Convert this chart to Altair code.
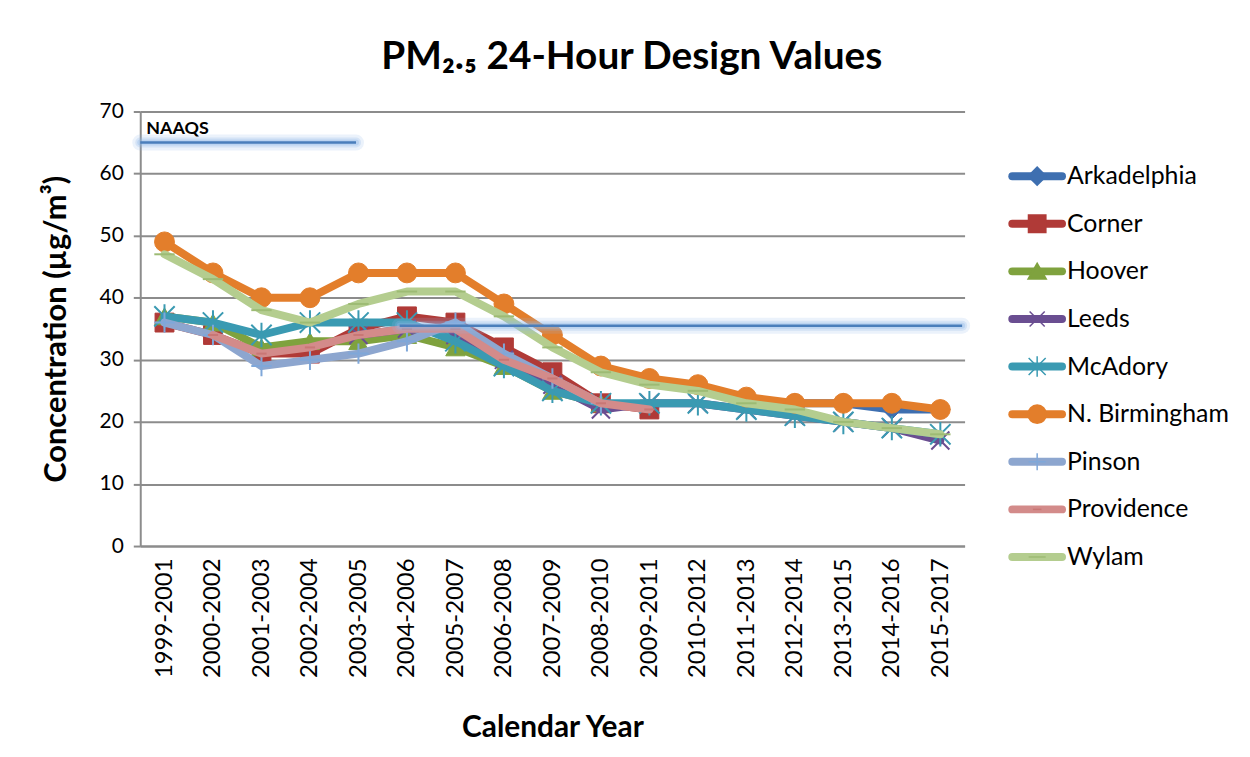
import altair as alt
import pandas as pd

periods = ["1999-2001", "2000-2002", "2001-2003", "2002-2004", "2003-2005", "2004-2006",
           "2005-2007", "2006-2008", "2007-2009", "2008-2010", "2009-2011", "2010-2012",
           "2011-2013", "2012-2014", "2013-2015", "2014-2016", "2015-2017"]

N = None
arkadelphia   = [N, N, N, N, N, N, N, N, N, N, N, N, N, 23, 23, 22, 22]
corner        = [36, 34, 31, 31, 35, 37, 36, 32, 28, 23, 22, N, N, N, N, N, N]
hoover        = [37, 36, 32, 33, 33, 34, 32, 29, 25, 23, N, N, N, N, N, N, N]
leeds         = [N, N, N, N, 34, 35, 34, 30, 26, 22, 23, 23, 22, 21, 20, 19, 17]
mcadory       = [37, 36, 34, 36, 36, 36, 33, 29, 25, 23, 23, 23, 22, 21, 20, 19, 18]
n_birmingham  = [49, 44, 40, 40, 44, 44, 44, 39, 34, 29, 27, 26, 24, 23, 23, 23, 22]
pinson        = [36, 34, 29, 30, 31, 33, 36, 31, 27, 23, N, N, N, N, N, N, N]
providence    = [N, 34, 31, 32, 34, 35, 35, 30, 27, 23, 22, N, N, N, N, N, N]
wylam         = [47, 43, 38, 36, 39, 41, 41, 37, 32, 28, 26, 25, 23, 22, 20, 19, 18]

series_names = ["Arkadelphia", "Corner", "Hoover", "Leeds", "McAdory", "N. Birmingham",
                "Pinson", "Providence", "Wylam"]
series_values = [arkadelphia, corner, hoover, leeds, mcadory, n_birmingham, pinson,
                 providence, wylam]

# NAAQS reference segments (value, start index, end index)
naaqs_levels = [65, 35.5]
naaqs_start = [-0.5, 4.85]
naaqs_end = [3.95, 16.45]
naaqs_label = ["NAAQS"]

colors = {
    "Arkadelphia": "#3E6FB0", "Corner": "#B03A37", "Hoover": "#7FA23E",
    "Leeds": "#6A4E91", "McAdory": "#3A9AB2", "N. Birmingham": "#E37E2B",
    "Pinson": "#8DA6CF", "Providence": "#D38B8A", "Wylam": "#B4CD8F",
}
marker_color = dict(colors)
marker_color["Pinson"] = "#7FA7D9"
marker_color["Providence"] = "#C97775"
marker_color["Wylam"] = "#9DBB74"

XSTAR = "M-1,-1L1,1M-1,1L1,-1"
ASTER = "M-1,-1L1,1M-1,1L1,-1M0,-1.2L0,1.2"
PLUS = "M0,-1L0,1M-1,0L1,0"
DASH_S = "M-0.5,0L0.5,0"
DASH_L = "M-1,0L1,0"
markers = {
    "Arkadelphia": ("diamond", True, 380),
    "Corner": ("square", True, 360),
    "Hoover": ("triangle-up", True, 380),
    "Leeds": (XSTAR, False, 330),
    "McAdory": (ASTER, False, 420),
    "N. Birmingham": ("circle", True, 400),
    "Pinson": (PLUS, False, 420),
    "Providence": (DASH_S, False, 420),
    "Wylam": (DASH_L, False, 420),
}

rows = []
for name, vals in zip(series_names, series_values):
    for i, v in enumerate(vals):
        if v is not None:
            rows.append({"series": name, "idx": i, "value": v})
df = pd.DataFrame(rows)

FONT = "Lato"
W, H = 829, 437
GRID = "#8C8C8C"

label_expr = "[" + ",".join("'" + p + "'" for p in periods) + "][datum.value]"

x_enc = alt.X("idx:Q",
              scale=alt.Scale(domain=[-0.5, len(periods) - 0.5], nice=False, zero=False),
              axis=alt.Axis(values=list(range(len(periods))), labelExpr=label_expr,
                            labelAngle=-90, labelAlign="right", labelBaseline="middle",
                            labelFontSize=24, labelFont=FONT, labelColor="black",
                            labelPadding=12, ticks=False, grid=False,
                            domainColor=GRID, domainWidth=2,
                            title="Calendar Year", titleFont=FONT, titleFontSize=30,
                            titleFontWeight="bold", titleColor="black", titlePadding=35))
y_enc = alt.Y("value:Q",
              scale=alt.Scale(domain=[0, 70], nice=False),
              axis=alt.Axis(values=list(range(0, 71, 10)), labelFontSize=21,
                            labelFont=FONT, labelColor="black", labelPadding=10,
                            tickSize=7, tickColor=GRID, tickWidth=2,
                            gridColor=GRID, gridWidth=2, domainColor=GRID, domainWidth=2,
                            title="Concentration (µg/m³)", titleFont=FONT, titleFontSize=31,
                            titleFontWeight="bold", titleColor="black", titlePadding=27))

base = alt.Chart(df)

layers = []
# axis/grid holder
layers.append(base.mark_line(opacity=0).encode(x=x_enc, y=y_enc, detail="series:N"))

for name in series_names:
    sub = base.transform_filter(alt.datum.series == name)
    layers.append(sub.mark_line(color=colors[name], strokeWidth=8, strokeCap="round",
                                strokeJoin="round").encode(x="idx:Q", y="value:Q"))
    shape, filled, size = markers[name]
    if filled:
        pm = sub.mark_point(shape=shape, filled=True, fill=marker_color[name],
                            stroke=marker_color[name], strokeWidth=1, size=size, opacity=1)
    else:
        pm = sub.mark_point(shape=shape, filled=False, stroke=marker_color[name],
                            strokeWidth=2, size=size, opacity=1)
    layers.append(pm.encode(x="idx:Q", y="value:Q"))

naaqs_df = pd.DataFrame({"level": naaqs_levels, "start": naaqs_start, "end": naaqs_end})
nbase = alt.Chart(naaqs_df)
for w, op in [(16, 0.18), (10, 0.25), (6, 0.35)]:
    layers.append(nbase.mark_rule(color="#8FB8E8", strokeWidth=w, opacity=op,
                                  strokeCap="round").encode(
        x="start:Q", x2="end:Q", y="level:Q"))
layers.append(nbase.mark_rule(color="#4A7EBB", strokeWidth=2.5).encode(
    x="start:Q", x2="end:Q", y="level:Q"))

label_df = pd.DataFrame({"text": naaqs_label, "x": [naaqs_start[0]], "y": [naaqs_levels[0]]})
layers.append(alt.Chart(label_df).mark_text(font=FONT, fontSize=18, fontWeight="bold",
                                            align="left", baseline="bottom", dx=6, dy=-5,
                                            color="black").encode(
    x="x:Q", y="y:Q", text="text:N"))

main = alt.layer(*layers).properties(width=W, height=H)

# legend panel
leg_df = pd.DataFrame({"series": series_names})
leg_y = alt.Y("series:N", scale=alt.Scale(type="point", domain=series_names,
                                          range=[65, 448], padding=0), axis=None)
leg_layers = []
for name in series_names:
    lb = alt.Chart(leg_df).transform_filter(alt.datum.series == name)
    leg_layers.append(lb.mark_rule(color=colors[name], strokeWidth=8, strokeCap="round").encode(
        x=alt.value(4), x2=alt.value(54), y=leg_y))
    shape, filled, size = markers[name]
    if filled:
        pm = lb.mark_point(shape=shape, filled=True, fill=marker_color[name],
                           stroke=marker_color[name], size=size * 0.8, opacity=1)
    else:
        pm = lb.mark_point(shape=shape, filled=False, stroke=marker_color[name],
                           strokeWidth=1.5, size=size * 0.7, opacity=1)
    leg_layers.append(pm.encode(x=alt.value(29), y=leg_y))
leg_layers.append(alt.Chart(leg_df).mark_text(font=FONT, fontSize=25, align="left",
                                              baseline="middle", color="black").encode(
    x=alt.value(59), y=leg_y, text="series:N"))
legend = alt.layer(*leg_layers).properties(width=230, height=H)

chart = alt.hconcat(main, legend, spacing=38).properties(
    title=alt.TitleParams("PM₂.₅ 24-Hour Design Values", font=FONT, fontSize=39,
                          fontWeight="bold", color="black", anchor="middle", offset=24, dx=-7),
    padding={"left": 32, "top": 28, "right": 5, "bottom": 5},
    background="white",
).configure_view(stroke="transparent", strokeWidth=0)

chart.save("out.html", embed_options={"renderer": "svg", "actions": False})
